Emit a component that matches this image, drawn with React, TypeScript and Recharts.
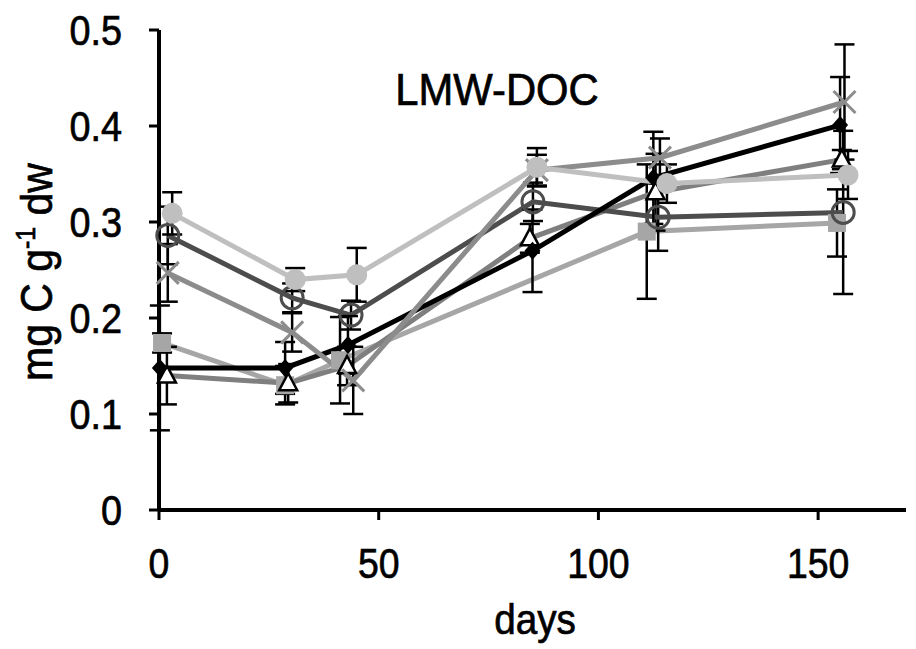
import React from 'react';
import { LineChart, Line, XAxis, YAxis, ErrorBar, Label } from 'recharts';

// sampling days (slightly offset per treatment, as plotted)
const squareDays = [0.7, 28.7, 41.2, 111, 154.3];
const triangleDays = [1.8, 29.4, 42.8, 84.4, 113, 155.4];
const openCircleDays = [2, 30.3, 43.7, 85.1, 113.6, 155.7];
const diamondDays = [0.2, 28.7, 43, 85, 112.5, 155];
const crossDays = [2, 30.3, 44.2, 86, 114, 156];
const greyCircleDays = [3, 31, 45, 86, 115.6, 156.8];

// LMW-DOC, mg C g-1 dw
const squareValues = [0.174, 0.13, 0.156, 0.29, 0.299];
const triangleValues = [0.14, 0.132, 0.15, 0.283, 0.331, 0.365];
const openCircleValues = [0.286, 0.221, 0.203, 0.321, 0.305, 0.31];
const diamondValues = [0.148, 0.148, 0.172, 0.27, 0.346, 0.401];
const crossValues = [0.247, 0.185, 0.135, 0.354, 0.367, 0.425];
const greyCircleValues = [0.309, 0.24, 0.245, 0.357, 0.34, 0.349];

// standard errors
const squareErr = [0.01, 0.02, 0.045, 0.07, 0.035];
const triangleErr = [0.03, 0.02, 0.02, 0.015, 0.04, 0.01];
const openCircleErr = [0.03, 0.015, 0.015, 0.02, 0.035, 0.085];
const diamondErr = [0.065, 0.027, 0.03, 0.043, 0.048, 0.05];
const crossErr = [0.03, 0.02, 0.035, 0.016, 0.02, 0.06];
const greyCircleErr = [0.022, 0.012, 0.028, 0.02, 0.02, 0.025];

const xTicks = [0, 50, 100, 150];
const yTicks = [0, 0.1, 0.2, 0.3, 0.4, 0.5];

const build = (days: number[], vals: number[], errs: number[]) =>
  days.map((d, i) => ({ day: d, v: vals[i], err: errs[i] }));

const FONT = '"Liberation Sans", Arial, sans-serif';
const TXT = { fontFamily: FONT, fill: '#000', stroke: '#000', strokeWidth: 0.7 };

const SquareDot = (p: any) => (
  <rect x={p.cx - 9} y={p.cy - 9} width={18} height={18} fill="#a6a6a6" />
);
const TriangleDot = (p: any) => (
  <path d={`M${p.cx},${p.cy - 10} L${p.cx + 9},${p.cy + 7} L${p.cx - 9},${p.cy + 7} Z`} fill="#fff" stroke="#000" strokeWidth={2.5} />
);
const OpenCircleDot = (p: any) => (
  <circle cx={p.cx} cy={p.cy} r={11} fill="none" stroke="#4d4d4d" strokeWidth={3} />
);
const DiamondDot = (p: any) => (
  <path d={`M${p.cx},${p.cy - 9} L${p.cx + 8},${p.cy} L${p.cx},${p.cy + 9} L${p.cx - 8},${p.cy} Z`} fill="#000" />
);
const CrossDot = (p: any) => (
  <path d={`M${p.cx - 11},${p.cy - 11} L${p.cx + 11},${p.cy + 11} M${p.cx + 11},${p.cy - 11} L${p.cx - 11},${p.cy + 11}`} stroke="#8c8c8c" strokeWidth={3} />
);
const GreyCircleDot = (p: any) => (
  <circle cx={p.cx} cy={p.cy} r={10.5} fill="#bfbfbf" />
);

const XTick = (p: any) => (
  <text transform={`translate(${p.x},${p.y + 56}) scale(0.87,1)`} textAnchor="middle" fontSize={43} {...TXT}>
    {p.payload.value}
  </text>
);
const YTick = (p: any) => (
  <text transform={`translate(${p.x - 25},${p.y + 15}) scale(0.9,1)`} textAnchor="end" fontSize={42} {...TXT}>
    {p.payload.value === 0 ? '0' : p.payload.value.toFixed(1)}
  </text>
);

const series = [
  { key: 'sq', data: build(squareDays, squareValues, squareErr), color: '#a6a6a6', dot: SquareDot },
  { key: 'tri', data: build(triangleDays, triangleValues, triangleErr), color: '#7f7f7f', dot: TriangleDot },
  { key: 'oc', data: build(openCircleDays, openCircleValues, openCircleErr), color: '#4d4d4d', dot: OpenCircleDot },
  { key: 'dia', data: build(diamondDays, diamondValues, diamondErr), color: '#000000', dot: DiamondDot },
  { key: 'x', data: build(crossDays, crossValues, crossErr), color: '#8c8c8c', dot: CrossDot },
  { key: 'gc', data: build(greyCircleDays, greyCircleValues, greyCircleErr), color: '#bfbfbf', dot: GreyCircleDot },
];

export default function App() {
  return (
    <div style={{ position: 'absolute', left: 0, top: 0, background: '#fff' }}>
      <LineChart width={916} height={649} margin={{ top: 30, right: 10, left: 0, bottom: 0 }}>
        <XAxis
          type="number"
          dataKey="day"
          domain={[0, 170]}
          ticks={xTicks}
          allowDuplicatedCategory={false}
          height={139}
          tickSize={10}
          axisLine={{ stroke: '#000', strokeWidth: 4 }}
          tickLine={{ stroke: '#000', strokeWidth: 3 }}
          tick={<XTick />}
        >
          <Label
            content={() => (
              <text x={535} y={634} textAnchor="middle" fontSize={43} {...TXT} transform="translate(535,0) scale(0.9,1) translate(-535,0)">
                days
              </text>
            )}
          />
        </XAxis>
        <YAxis
          type="number"
          domain={[0, 0.5]}
          ticks={yTicks}
          width={159}
          tickSize={10}
          axisLine={{ stroke: '#000', strokeWidth: 4 }}
          tickLine={{ stroke: '#000', strokeWidth: 3 }}
          tick={<YTick />}
        >
          <Label
            content={() => (
              <text transform="translate(52,272) rotate(-90) scale(0.93,1)" textAnchor="middle" fontSize={44} {...TXT}>
                mg C g<tspan fontSize={27} dy={-17}>-1</tspan><tspan dy={17}> dw</tspan>
              </text>
            )}
          />
        </YAxis>
        {series.map((s) => (
          <Line
            key={s.key}
            data={s.data}
            dataKey="v"
            type="linear"
            stroke={s.color}
            strokeWidth={5}
            dot={s.dot}
            activeDot={false}
            isAnimationActive={false}
          >
            <ErrorBar dataKey="err" width={10} stroke="#000" strokeWidth={2.5} direction="y" />
          </Line>
        ))}
        <text x={497} y={105} textAnchor="middle" fontSize={44} {...TXT} transform="translate(497,0) scale(0.95,1) translate(-497,0)">
          LMW-DOC
        </text>
      </LineChart>
    </div>
  );
}
